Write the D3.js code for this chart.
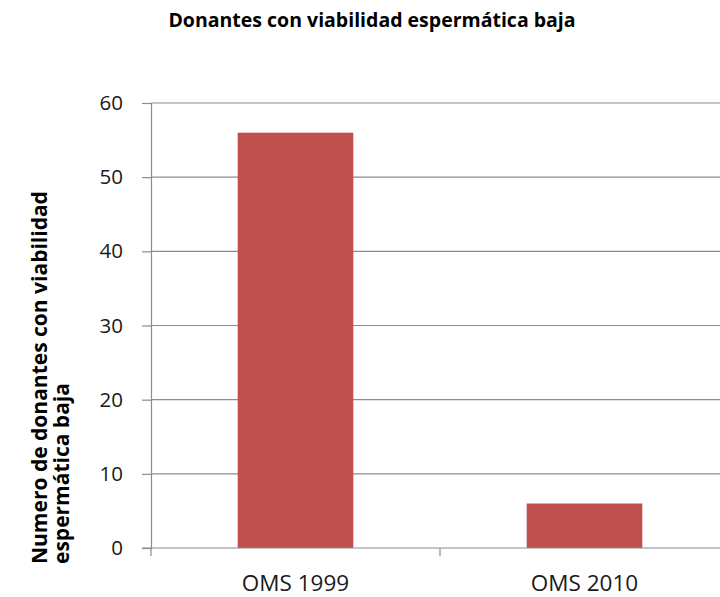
<!DOCTYPE html>
<html>
<head>
<meta charset="utf-8">
<script src="https://cdnjs.cloudflare.com/ajax/libs/d3/7.8.5/d3.min.js"></script>
<style>
  body { margin: 0; background: #fff; }
  svg { display: block; }
</style>
</head>
<body>
<div id="chart"></div>
<script>
// data
var categories = ["OMS 1999", "OMS 2010"];
var donantes = [56, 6];
var yTicks = [0, 10, 20, 30, 40, 50, 60];

var svgWidth = 720;
var svgHeight = 597;

var margin = { top: 103, right: 0, bottom: 49, left: 151 };
var height = svgHeight - margin.top - margin.bottom;
var width = 578; // plot area runs past the right edge, like the original

var svg = d3.select("#chart").append("svg")
  .attr("width", svgWidth)
  .attr("height", svgHeight);

var fontFam = "'Open Sans', 'DejaVu Sans', sans-serif";

// title
svg.append("text")
  .attr("x", 372)
  .attr("y", 27)
  .attr("text-anchor", "middle")
  .attr("font-family", fontFam)
  .attr("font-weight", "bold")
  .attr("font-size", 19.5)
  .attr("fill", "#000")
  .text("Donantes con viabilidad espermática baja");

var chartGroup = svg.append("g")
  .attr("transform", `translate(${margin.left}, ${margin.top})`);

var xScale = d3.scaleBand()
  .domain(categories)
  .range([0, width])
  .paddingInner(0.6)
  .paddingOuter(0.3);

var yScale = d3.scaleLinear()
  .domain([0, 60])
  .range([height, 0]);

// gridlines
chartGroup.selectAll(".grid")
  .data(yTicks.filter(d => d > 0))
  .enter()
  .append("line")
  .attr("class", "grid")
  .attr("x1", 0)
  .attr("x2", width)
  .attr("y1", d => yScale(d))
  .attr("y2", d => yScale(d))
  .attr("stroke", "#8c8c8c")
  .attr("stroke-width", 1.2);

// bars
chartGroup.selectAll(".bar")
  .data(donantes)
  .enter()
  .append("rect")
  .attr("class", "bar")
  .attr("x", (d, i) => xScale(categories[i]))
  .attr("y", d => yScale(d))
  .attr("width", xScale.bandwidth())
  .attr("height", d => height - yScale(d))
  .attr("fill", "#c0504d");

// y axis
var leftAxis = d3.axisLeft(yScale)
  .tickValues(yTicks)
  .tickSize(9)
  .tickPadding(19)
  .tickFormat(d3.format("d"));

var yAxis = chartGroup.append("g").call(leftAxis);
yAxis.select(".domain").attr("stroke", "#8c8c8c").attr("stroke-width", 1.2);
yAxis.selectAll(".tick line").attr("stroke", "#8c8c8c").attr("stroke-width", 1.2);
yAxis.selectAll(".tick text")
  .attr("font-family", fontFam)
  .attr("font-size", 20.5)
  .attr("fill", "#1a1a1a");

// x axis: ticks between categories
var xTickPos = [0, width / 2, width];

var xAxis = chartGroup.append("g")
  .attr("transform", `translate(0, ${height})`);
xAxis.append("line")
  .attr("x1", -9).attr("x2", width)
  .attr("y1", 0).attr("y2", 0)
  .attr("stroke", "#8c8c8c")
  .attr("stroke-width", 1.2);
xAxis.selectAll(".xtick")
  .data(xTickPos)
  .enter()
  .append("line")
  .attr("x1", d => d).attr("x2", d => d)
  .attr("y1", 0).attr("y2", 8)
  .attr("stroke", "#8c8c8c")
  .attr("stroke-width", 1.2);
xAxis.selectAll(".xlabel")
  .data(categories)
  .enter()
  .append("text")
  .attr("x", d => xScale(d) + xScale.bandwidth() / 2)
  .attr("y", 43)
  .attr("text-anchor", "middle")
  .attr("font-family", fontFam)
  .attr("font-size", 22.5)
  .attr("fill", "#1a1a1a")
  .text(d => d);

// y axis title, two lines
var yTitle = svg.append("text")
  .attr("transform", "translate(47, 564) rotate(-90)")
  .attr("text-anchor", "start")
  .attr("font-family", fontFam)
  .attr("font-weight", "bold")
  .attr("font-size", 21)
  .attr("fill", "#000");
yTitle.append("tspan").attr("x", 0).attr("y", 0).text("Numero de donantes con viabilidad");
yTitle.append("tspan").attr("x", 0).attr("y", 22).text("espermática baja");
</script>
</body>
</html>
